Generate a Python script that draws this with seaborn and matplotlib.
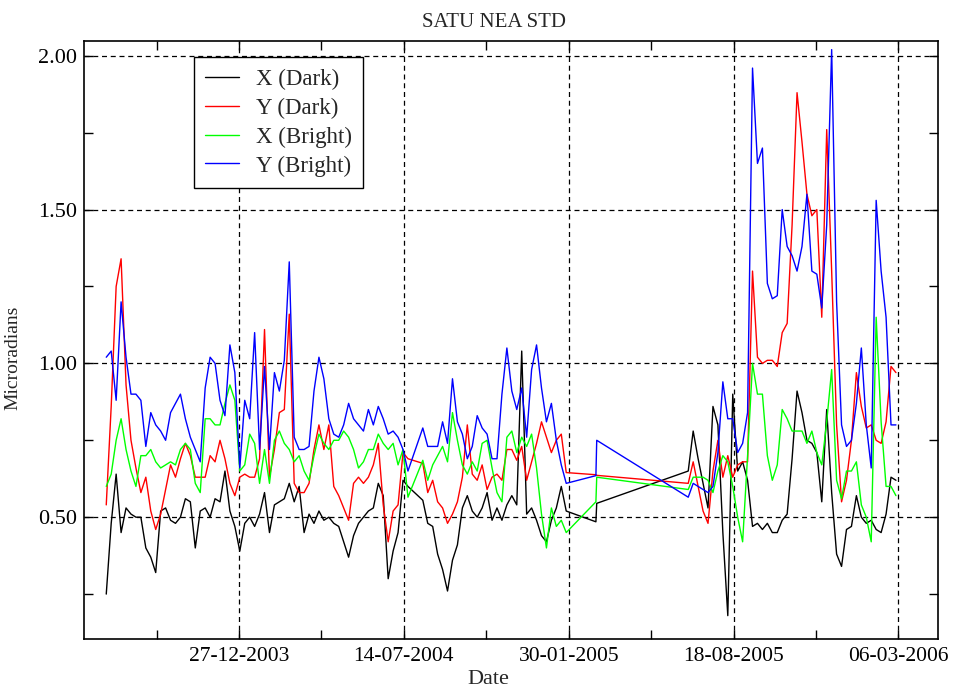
import matplotlib
matplotlib.use("Agg")
import matplotlib.pyplot as plt
import matplotlib.dates as mdates
import matplotlib.ticker as mticker
import pandas as pd
import seaborn as sns

# ---------------- data ----------------
SEG1_START = "2003-07-19"
SEG1_N = 94
GAP_DATES = ["2005-03-04", "2005-03-05"]
SEG2_START = "2005-06-24"
SEG2_N = 43
STEP = "6D"

series_names = ["X (Dark)", "Y (Dark)", "X (Bright)", "Y (Bright)"]

x_dark = [
    0.25, 0.48, 0.64, 0.45, 0.53, 0.51, 0.50, 0.50, 0.40, 0.37,
    0.32, 0.52, 0.53, 0.49, 0.48, 0.50, 0.56, 0.55, 0.40, 0.52,
    0.53, 0.50, 0.56, 0.55, 0.65, 0.52, 0.47, 0.39, 0.48, 0.50,
    0.47, 0.51, 0.58, 0.45, 0.54, 0.55, 0.56, 0.61, 0.55, 0.60,
    0.45, 0.51, 0.48, 0.52, 0.49, 0.50, 0.48, 0.47, 0.42, 0.37,
    0.44, 0.48, 0.50, 0.52, 0.53, 0.61, 0.57, 0.30, 0.39, 0.45,
    0.62, 0.60, None, None, 0.555, 0.48, 0.47, 0.38, 0.33, 0.26,
    0.36, 0.41, 0.53, 0.57, 0.52, 0.50, 0.53, 0.58, 0.49, 0.53,
    0.49, 0.54, 0.57, 0.54, 1.04, 0.51, 0.53, 0.49, 0.44, 0.42,
    0.49, 0.53, 0.60, 0.52,
    0.485, 0.545,
    0.65, 0.78, 0.69, 0.61, 0.53, 0.86, 0.80, 0.45, 0.18, 0.90,
    0.65, 0.68, 0.62, 0.47, 0.48, 0.46, 0.48, 0.45, 0.45, 0.49,
    0.51, 0.69, 0.91, 0.84, 0.75, 0.74, 0.71, 0.55, 0.85, 0.58,
    0.38, 0.34, 0.46, 0.47, 0.57, 0.50, 0.48, 0.49, 0.46, 0.45,
    0.51, 0.63, 0.62,
]

y_dark = [
    0.54, 0.86, 1.25, 1.34, 0.93, 0.75, 0.66, 0.58, 0.63, 0.52,
    0.46, 0.51, 0.59, 0.67, 0.63, 0.69, 0.74, 0.70, 0.63, 0.63,
    0.63, 0.70, 0.68, 0.75, 0.69, 0.61, 0.57, 0.63, 0.64, 0.63,
    0.63, 0.69, 1.11, 0.63, 0.72, 0.84, 0.85, 1.16, 0.61, 0.58,
    0.58, 0.61, 0.72, 0.80, 0.72, 0.80, 0.60, 0.57, 0.53, 0.49,
    0.61, 0.63, 0.61, 0.63, 0.67, 0.74, 0.54, 0.42, 0.52, 0.54,
    0.71, 0.69, None, None, 0.675, 0.58, 0.62, 0.55, 0.53, 0.48,
    0.51, 0.55, 0.63, 0.80, 0.64, 0.62, 0.67, 0.59, 0.63, 0.64,
    0.62, 0.72, 0.72, 0.685, 0.73, 0.62, 0.68, 0.74, 0.81, 0.76,
    0.71, 0.75, 0.77, 0.645,
    0.638, 0.636,
    0.61, 0.68, 0.60, 0.52, 0.48, 0.65, 0.75, 0.63, 0.70, 0.63,
    0.67, 0.68, 0.68, 1.30, 1.02, 1.00, 1.01, 1.01, 0.99, 1.10,
    1.13, 1.45, 1.88, 1.72, 1.55, 1.48, 1.50, 1.15, 1.76, 1.30,
    0.80, 0.55, 0.62, 0.75, 0.97, 0.86, 0.79, 0.80, 0.75, 0.74,
    0.81, 0.99, 0.97,
]

x_bright = [
    0.60, 0.64, 0.75, 0.82, 0.72, 0.65, 0.60, 0.70, 0.70, 0.72,
    0.68, 0.66, 0.67, 0.68, 0.67, 0.72, 0.74, 0.72, 0.61, 0.58,
    0.82, 0.82, 0.80, 0.80, 0.87, 0.93, 0.88, 0.65, 0.67, 0.77,
    0.74, 0.61, 0.72, 0.61, 0.75, 0.78, 0.74, 0.72, 0.68, 0.70,
    0.65, 0.62, 0.70, 0.77, 0.74, 0.72, 0.75, 0.75, 0.78, 0.76,
    0.72, 0.66, 0.68, 0.72, 0.72, 0.77, 0.74, 0.72, 0.74, 0.67,
    0.72, 0.565, None, None, 0.685, 0.62, 0.67, 0.70, 0.73, 0.68,
    0.84, 0.75, 0.67, 0.64, 0.68, 0.65, 0.74, 0.75, 0.66, 0.58,
    0.55, 0.76, 0.78, 0.71, 0.76, 0.73, 0.77, 0.66, 0.51, 0.40,
    0.53, 0.47, 0.49, 0.45,
    0.55, 0.63,
    0.59, 0.63, 0.63, 0.63, 0.62, 0.58, 0.65, 0.70, 0.68, 0.60,
    0.50, 0.42, 0.70, 1.00, 0.90, 0.90, 0.70, 0.62, 0.67, 0.85,
    0.82, 0.78, 0.78, 0.78, 0.74, 0.78, 0.71, 0.67, 0.81, 0.98,
    0.62, 0.56, 0.65, 0.65, 0.68, 0.54, 0.50, 0.42, 1.15, 0.81,
    0.60, 0.60, 0.57,
]

y_bright = [
    1.02, 1.04, 0.88, 1.20, 1.02, 0.90, 0.90, 0.88, 0.73, 0.84,
    0.80, 0.78, 0.75, 0.84, 0.87, 0.90, 0.82, 0.76, 0.72, 0.68,
    0.92, 1.02, 1.00, 0.88, 0.83, 1.06, 0.97, 0.66, 0.88, 0.82,
    1.10, 0.72, 0.99, 0.72, 0.97, 0.91, 1.01, 1.33, 0.76, 0.72,
    0.72, 0.73, 0.91, 1.02, 0.95, 0.82, 0.77, 0.76, 0.80, 0.87,
    0.82, 0.80, 0.78, 0.85, 0.80, 0.86, 0.82, 0.77, 0.78, 0.76,
    0.72, 0.65, None, None, 0.79, 0.73, 0.73, 0.73, 0.81, 0.74,
    0.95, 0.81, 0.77, 0.69, 0.73, 0.83, 0.79, 0.77, 0.69, 0.69,
    0.90, 1.05, 0.91, 0.85, 0.92, 0.76, 0.98, 1.06, 0.92, 0.81,
    0.87, 0.75, 0.67, 0.61,
    0.635, 0.75,
    0.565, 0.61, 0.60, 0.59, 0.58, 0.60, 0.71, 0.94, 0.82, 0.82,
    0.71, 0.74, 0.84, 1.96, 1.65, 1.70, 1.26, 1.21, 1.22, 1.50,
    1.38, 1.35, 1.30, 1.38, 1.55, 1.30, 1.29, 1.18, 1.45, 2.02,
    1.20, 0.80, 0.73, 0.75, 0.87, 1.05, 0.80, 0.66, 1.53, 1.30,
    1.15, 0.80, 0.80,
]

major_tick_dates = ["2003-12-27", "2004-07-14", "2005-01-30", "2005-08-18", "2006-03-06"]
minor_tick_dates = ["2003-09-18", "2004-04-05", "2004-10-22", "2005-05-10", "2005-11-26"]
y_major = [0.50, 1.00, 1.50, 2.00]
y_minor = [0.25, 0.75, 1.25, 1.75]

# ---------------- build table ----------------
dates = (list(pd.date_range(SEG1_START, periods=SEG1_N, freq=STEP))
         + list(pd.to_datetime(GAP_DATES))
         + list(pd.date_range(SEG2_START, periods=SEG2_N, freq=STEP)))
values = {"X (Dark)": x_dark, "Y (Dark)": y_dark,
          "X (Bright)": x_bright, "Y (Bright)": y_bright}
for k, v in values.items():
    assert len(v) == len(dates), (k, len(v), len(dates))

df = pd.DataFrame({"Date": dates, **values})
long = df.melt(id_vars="Date", var_name="Series", value_name="Value")
long["Value"] = pd.to_numeric(long["Value"])
long = long.dropna()

colors = {"X (Dark)": "#000000", "Y (Dark)": "#ff0000",
          "X (Bright)": "#00ff00", "Y (Bright)": "#0000ff"}

# ---------------- plot ----------------
sns.set_style("ticks")
plt.rcParams["font.family"] = ["Liberation Serif", "DejaVu Serif"]

fig = plt.figure(figsize=(9.55, 6.92), dpi=100)
ax = fig.add_axes([84 / 955, 1 - 639 / 692, (938 - 84) / 955, (639 - 41) / 692])

for name in series_names:
    sub = long[long["Series"] == name]
    sns.lineplot(data=sub, x="Date", y="Value", ax=ax, color=colors[name],
                 linewidth=1.0, estimator=None, sort=False, label=name)

ax.set_xlim(pd.Timestamp("2003-06-22"), pd.Timestamp("2006-04-23"))
ax.set_ylim(0.104, 2.048)

ax.xaxis.set_major_locator(mticker.FixedLocator(mdates.date2num(pd.to_datetime(major_tick_dates))))
ax.xaxis.set_minor_locator(mticker.FixedLocator(mdates.date2num(pd.to_datetime(minor_tick_dates))))
ax.xaxis.set_major_formatter(mdates.DateFormatter("%d-%m-%Y"))
ax.yaxis.set_major_locator(mticker.FixedLocator(y_major))
ax.yaxis.set_minor_locator(mticker.FixedLocator(y_minor))
ax.yaxis.set_major_formatter(mticker.FormatStrFormatter("%.2f"))

ax.tick_params(which="both", direction="in", length=6.5, width=1.0,
               top=True, right=True, colors="black")
ax.tick_params(axis="x", which="major", pad=6, labelsize=15.5)
ax.tick_params(axis="y", which="major", pad=5, labelsize=16)

ax.grid(True, which="major", color="black", linestyle=(0, (4, 3)), linewidth=0.9)
for sp in ax.spines.values():
    sp.set_visible(True)
    sp.set_color("black")
    sp.set_linewidth(1.2)

ax.set_title("SATU NEA STD", fontsize=15, pad=10, x=0.48)
ax.set_xlabel("Date", fontsize=16, labelpad=1)
ax.xaxis.set_label_coords(0.474, -0.052)
ax.set_ylabel("Microradians", fontsize=14, labelpad=5)
ax.yaxis.set_label_coords(-0.073, 0.47)

leg = ax.legend(loc="upper left", bbox_to_anchor=((194 - 84) / 854, (639 - 57) / 598),
                borderaxespad=0, frameon=True, fancybox=False, framealpha=1,
                edgecolor="black", fontsize=16.5, handlelength=1.45,
                handletextpad=0.75, labelspacing=0.34, borderpad=0.5)
leg.get_frame().set_linewidth(1.0)
for line in leg.get_lines():
    line.set_linewidth(1.0)

fig.savefig("out.png", dpi=100)
